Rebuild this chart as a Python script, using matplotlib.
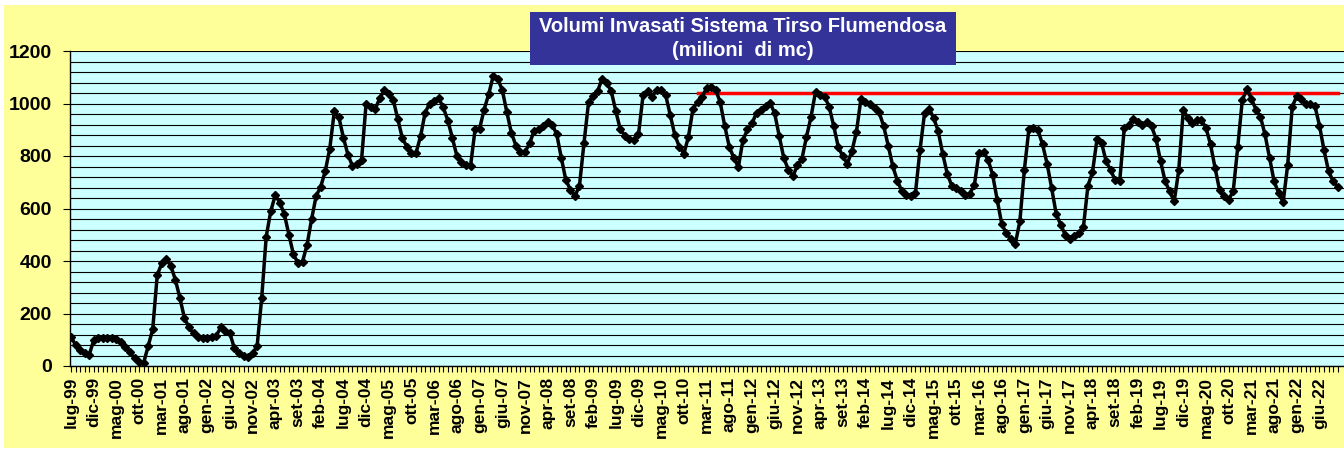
import numpy as np
import matplotlib

matplotlib.use("Agg")
import matplotlib.pyplot as plt  # noqa: E402
from matplotlib.patches import Rectangle  # noqa: E402
from matplotlib.ticker import MultipleLocator, FixedLocator  # noqa: E402

plt.rcParams["font.family"] = ["Liberation Sans", "DejaVu Sans"]

# Italian month abbreviations, series starts at July 1999
MESI = ["gen", "feb", "mar", "apr", "mag", "giu", "lug", "ago", "set", "ott", "nov", "dic"]
ANNO_INIZIO = 1999
MESE_INIZIO = 7

# monthly stored volume, millions of m3
VOLUMI = [
    112, 80, 62, 50, 42, 98, 105, 105, 105, 105, 103, 93, 74, 52, 29, 14, 12, 76, 140, 347,
    391, 406, 381, 328, 258, 182, 147, 124, 112, 108, 108, 112, 116, 147, 135, 124, 67, 48, 38, 36,
    48, 76, 258, 493, 590, 651, 622, 578, 500, 425, 393, 398, 462, 560, 648, 683, 742, 828, 970, 948,
    870, 805, 762, 768, 785, 1000, 985, 978, 1020, 1050, 1035, 1012, 940, 867, 835, 810, 812, 875, 965, 1000,
    1010, 1020, 985, 935, 869, 800, 777, 767, 761, 901, 904, 977, 1035, 1105, 1094, 1051, 967, 888, 840, 815,
    815, 848, 895, 904, 916, 930, 920, 882, 793, 708, 672, 647, 687, 850, 1005, 1028, 1047, 1095, 1078, 1047,
    971, 901, 878, 865, 860, 882, 1031, 1047, 1026, 1051, 1050, 1031, 955, 880, 835, 809, 873, 980, 1005, 1026,
    1058, 1062, 1052, 1005, 914, 835, 793, 758, 860, 901, 924, 965, 977, 990, 1003, 962, 876, 793, 748, 723,
    764, 789, 873, 949, 1045, 1031, 1026, 988, 914, 835, 799, 771, 818, 891, 1018, 1005, 1000, 984, 967, 914,
    840, 762, 706, 667, 653, 649, 659, 822, 962, 980, 946, 895, 809, 733, 687, 678, 666, 652, 657, 691,
    812, 815, 786, 729, 634, 542, 506, 484, 466, 551, 748, 904, 908, 898, 844, 771, 678, 580, 538, 500,
    484, 496, 506, 529, 687, 738, 865, 850, 780, 746, 708, 704, 907, 920, 942, 930, 920, 930, 914, 865,
    780, 704, 666, 627, 746, 975, 946, 926, 937, 937, 907, 844, 755, 669, 647, 634, 666, 835, 1013, 1055,
    1018, 977, 949, 882, 793, 704, 659, 624, 767, 988, 1028, 1016, 997, 997, 990, 916, 822, 742, 704, 682,
]

# red reference level, drawn from gen-11 to the end
RIF_INIZIO = 138
RIF_VALORE = 1040

W, H = 1344, 451

n = len(VOLUMI)
x = np.arange(n)
etichette = []
for i in range(n):
    m = MESE_INIZIO - 1 + i
    etichette.append(f"{MESI[m % 12]}-{(ANNO_INIZIO + m // 12) % 100:02d}")
rif = np.where(x >= RIF_INIZIO, RIF_VALORE, np.nan)

fig = plt.figure(figsize=(W / 100, H / 100), dpi=100)
fig.patch.set_facecolor("white")

# yellow chart area
fig.add_artist(Rectangle((4 / W, 3 / H), 1 - 4 / W, (446 - 3) / H, transform=fig.transFigure,
                         facecolor="#FFFF99", edgecolor="none", zorder=-10))

ax = fig.add_axes([70 / W, 1 - 366 / H, 1274 / W, 315 / H])
ax.set_facecolor("#CCFFFF")

ax.plot(x, rif, color="#FF0000", linewidth=2.5, zorder=3)
ax.plot(x, VOLUMI, color="black", linewidth=2.5, marker="D", markersize=4.5,
        markerfacecolor="black", markeredgecolor="black", zorder=4)

ax.set_xlim(-0.22, 280.4)
ax.set_ylim(0, 1200)

# horizontal grid every 40
ax.yaxis.set_major_locator(MultipleLocator(200))
ax.yaxis.set_minor_locator(MultipleLocator(40))
ax.grid(True, axis="y", which="both", color="black", linewidth=0.8, zorder=1)
ax.set_axisbelow(True)

ax.xaxis.set_major_locator(FixedLocator(x[::5]))
ax.xaxis.set_minor_locator(FixedLocator(x))
ax.set_xticklabels(etichette[::5], rotation=90, fontsize=12.5, fontweight="bold")
ax.tick_params(axis="x", which="both", direction="out", length=4, width=0.8, pad=4)
ax.tick_params(axis="y", which="major", direction="out", length=5, width=0.8, pad=8,
               labelsize=14)
ax.tick_params(axis="y", which="minor", length=0)
for lab in ax.get_yticklabels():
    lab.set_fontweight("bold")

for side in ("top", "right"):
    ax.spines[side].set_visible(False)
for side in ("left", "bottom"):
    ax.spines[side].set_color("black")
    ax.spines[side].set_linewidth(1.0)

# title box
fig.add_artist(Rectangle((530 / W, 1 - 65 / H), 426 / W, 53 / H, transform=fig.transFigure,
                         facecolor="#333399", edgecolor="none", zorder=10))
fig.text(743 / W, 1 - 38.5 / H, "Volumi Invasati Sistema Tirso Flumendosa\n(milioni  di mc)",
         ha="center", va="center", color="white", fontsize=14.5, fontweight="bold",
         linespacing=1.3, zorder=11)

fig.savefig("out.png", dpi=100)
plt.close(fig)
